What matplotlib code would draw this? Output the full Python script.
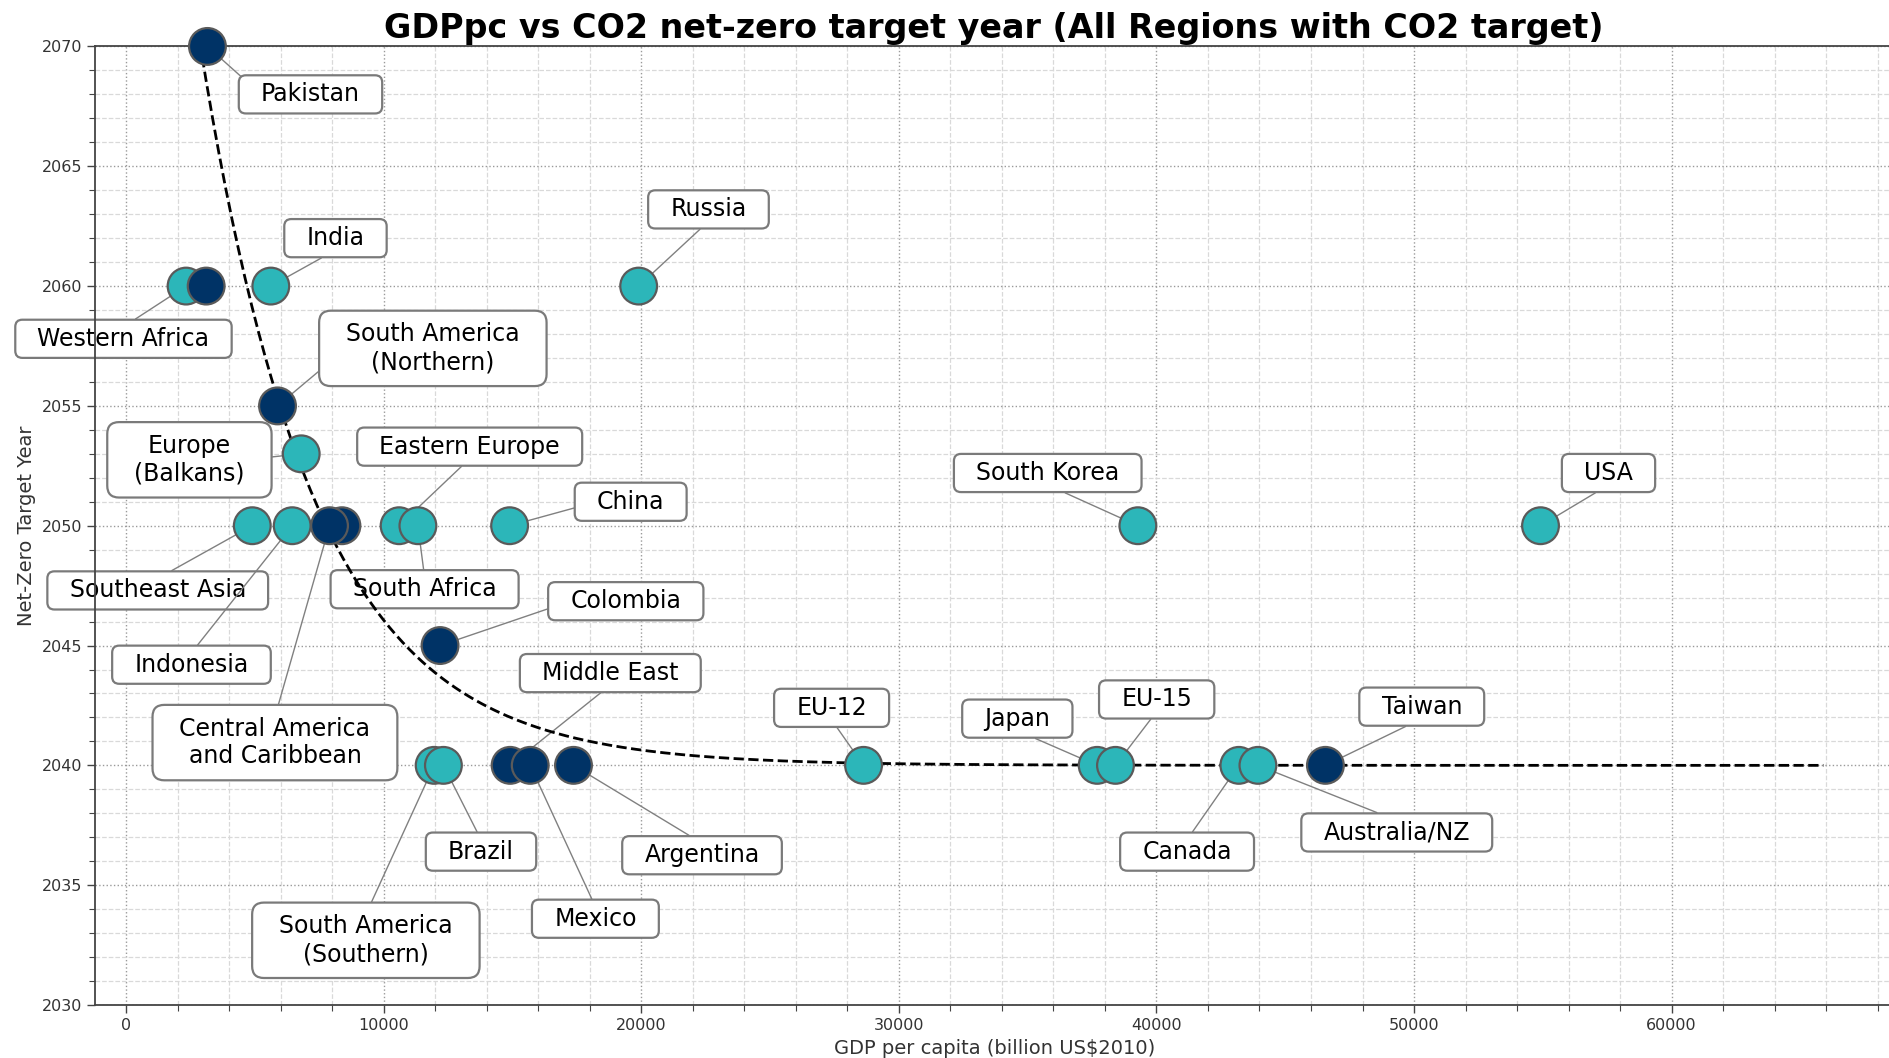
import numpy as np
import matplotlib
matplotlib.use('Agg')
import matplotlib.pyplot as plt
from matplotlib.patches import BoxStyle
from matplotlib.ticker import MultipleLocator

# regions, in drawing order (later points sit on top)
regions = ['Western Africa', '', 'Pakistan', 'India', 'South America\n(Northern)',
           'Europe\n(Balkans)', 'Southeast Asia', 'Indonesia', '',
           'Central America\nand Caribbean', 'Eastern Europe', 'South Africa', 'China',
           'Colombia', 'South America\n(Southern)', 'Brazil', 'Middle East', 'Mexico',
           'Argentina', 'Russia', 'EU-12', 'Japan', 'EU-15', 'South Korea', 'Canada',
           'Australia/NZ', 'Taiwan', 'USA']
gdp_pc = [2330, 3110, 3160, 5620, 5880,
          6800, 4900, 6450, 8380,
          7900, 10600, 11330, 14890,
          12190, 11960, 12320, 14910, 15690,
          17370, 19900, 28630, 37700, 38410, 39280, 43200,
          43940, 46560, 54910]
target_year = [2060, 2060, 2070, 2060, 2055,
               2053, 2050, 2050, 2050,
               2050, 2050, 2050, 2050,
               2045, 2040, 2040, 2040, 2040,
               2040, 2060, 2040, 2040, 2040, 2050, 2040,
               2040, 2040, 2050]
group = ['b', 'a', 'a', 'b', 'a',
         'b', 'b', 'b', 'a',
         'a', 'b', 'b', 'b',
         'a', 'b', 'b', 'a', 'a',
         'a', 'b', 'b', 'b', 'b', 'b', 'b',
         'b', 'a', 'b']

# exponential decay fit: year = fit_c + fit_a * exp(-fit_b * gdp)
fit_a = 57.5
fit_b = 2.25e-4
fit_c = 2040.0

# label box centres (data coords) and the box side the leader line leaves from
label_layout = {
    'Pakistan': (7160, 2068.0, 'left'),
    'Western Africa': (-100, 2057.8, 'top'),
    'India': (8130, 2062.0, 'bottom'),
    'Russia': (22610, 2063.2, 'bottom'),
    'South America\n(Northern)': (11910, 2057.4, 'left'),
    'Europe\n(Balkans)': (2460, 2052.75, 'right'),
    'Southeast Asia': (1230, 2047.3, 'top'),
    'Indonesia': (2540, 2044.2, 'top'),
    'Central America\nand Caribbean': (5780, 2040.95, 'top'),
    'Eastern Europe': (13340, 2053.3, 'bottom'),
    'South Africa': (11590, 2047.35, 'top'),
    'China': (19590, 2051.0, 'left'),
    'South Korea': (35780, 2052.2, 'bottom'),
    'USA': (57550, 2052.2, 'bottom'),
    'Colombia': (19400, 2046.85, 'left'),
    'South America\n(Southern)': (9310, 2032.7, 'top'),
    'Brazil': (13780, 2036.4, 'top'),
    'Middle East': (18800, 2043.85, 'bottom'),
    'Mexico': (18220, 2033.6, 'top'),
    'Argentina': (22360, 2036.25, 'top'),
    'EU-12': (27390, 2042.4, 'bottom'),
    'Japan': (34600, 2041.95, 'bottom'),
    'EU-15': (40010, 2042.75, 'bottom'),
    'Canada': (41190, 2036.4, 'top'),
    'Australia/NZ': (49330, 2037.2, 'top'),
    'Taiwan': (50300, 2042.45, 'bottom'),
}
relpos = {'left': (0, 0.5), 'right': (1, 0.5), 'top': (0.5, 1), 'bottom': (0.5, 0)}
colors = {'a': '#003366', 'b': '#2cb6b9'}


class LabelBox(BoxStyle.Round):
    """round box with some extra room left and right"""
    def __init__(self, pad=0.3, xpad=0.64):
        super().__init__(pad=pad)
        self.xpad = xpad

    def __call__(self, x0, y0, width, height, mutation_size):
        dx = self.xpad * mutation_size
        return super().__call__(x0 - dx, y0, width + 2 * dx, height, mutation_size)


fig = plt.figure(figsize=(18.9, 10.58), dpi=100)
ax = fig.add_axes([0.0505, 0.0501, 0.9511, 0.9060])

ax.set_axisbelow(True)
ax.xaxis.set_major_locator(MultipleLocator(10000))
ax.xaxis.set_minor_locator(MultipleLocator(2000))
ax.yaxis.set_major_locator(MultipleLocator(5))
ax.yaxis.set_minor_locator(MultipleLocator(1))
ax.grid(which='major', linestyle=':', color='#9a9a9a', lw=1.0)
ax.grid(which='minor', linestyle='--', color='#d9d9d9', lw=0.9)
ax.tick_params(which='major', length=6, width=1, labelsize=11.5, labelcolor='#333333', color='#444444')
ax.tick_params(which='minor', length=4, width=0.8, color='#444444')
for side in ['left', 'bottom', 'top', 'right']:
    ax.spines[side].set_color('#444444')
    ax.spines[side].set_linewidth(1.3)

# fitted curve
xs = np.linspace(min(gdp_pc), 1.2 * max(gdp_pc), 500)
ax.plot(xs, fit_c + fit_a * np.exp(-fit_b * xs), '--', color='black', lw=2, zorder=2)

ax.scatter(gdp_pc, target_year, s=700, c=[colors[g] for g in group],
           edgecolors='#5a5a5a', linewidths=1.6, zorder=3, clip_on=False)

for name, x, y in zip(regions, gdp_pc, target_year):
    if not name:
        continue
    lx, ly, side = label_layout[name]
    pad = 0.5 if '\n' in name else 0.3
    ax.annotate(name, xy=(x, y), xytext=(lx, ly), textcoords='data',
                ha='center', va='center', fontsize=17, color='black', zorder=1,
                bbox=dict(boxstyle=LabelBox(pad=pad), fc='white', ec='#7a7a7a', lw=1.6),
                arrowprops=dict(arrowstyle='-', color='#808080', lw=1.0,
                                relpos=relpos[side], shrinkA=0, shrinkB=0))

ax.set_xlim(-1188, 68595)
ax.set_ylim(2030, 2070)
ax.set_title('GDPpc vs CO2 net-zero target year (All Regions with CO2 target)',
             fontsize=24, fontweight='bold', pad=6)
ax.set_xlabel('GDP per capita (billion US$2010)', fontsize=14, color='#333333')
ax.set_ylabel('Net-Zero Target Year', fontsize=14, color='#333333')

fig.savefig('out.png', dpi=100)
